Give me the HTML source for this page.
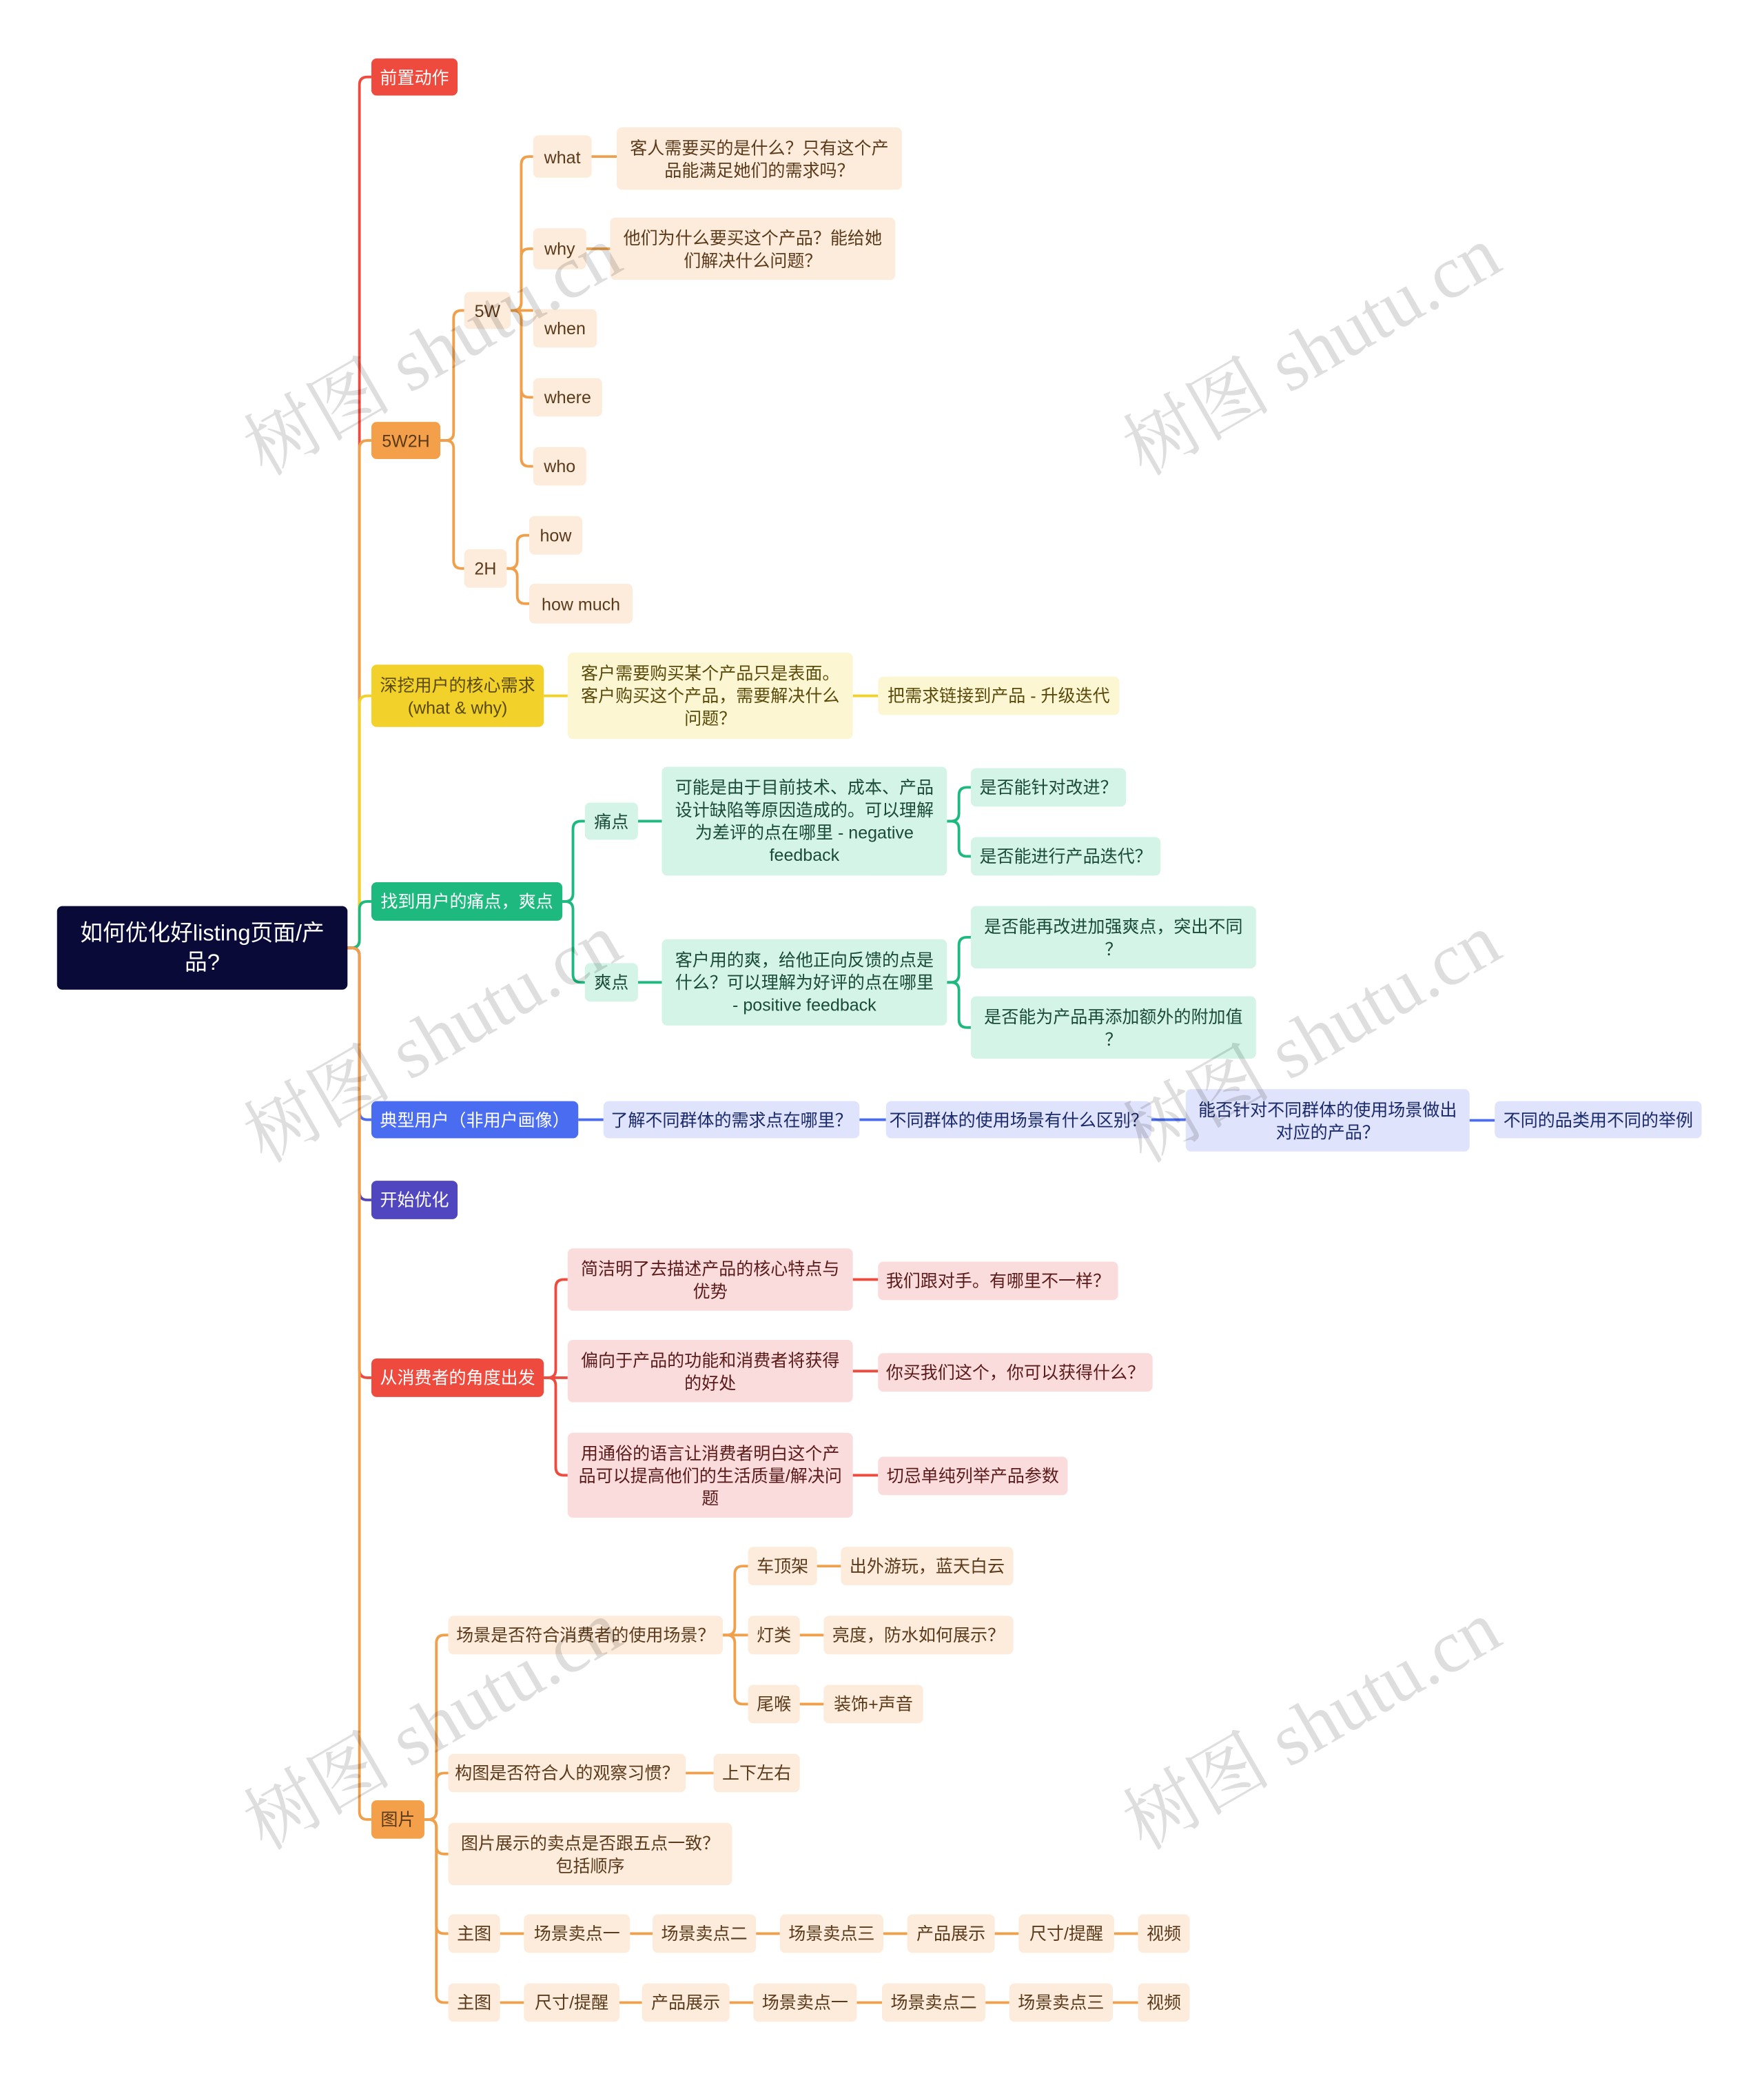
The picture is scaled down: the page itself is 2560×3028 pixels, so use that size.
<!DOCTYPE html>
<html><head><meta charset="utf-8">
<style>
html,body{margin:0;padding:0;background:#fff;}
body{width:2560px;height:3027px;overflow:hidden;position:relative;}
#w{position:absolute;left:0;top:0;width:1330px;height:1573px;transform:scale(1.92481);transform-origin:0 0;font-family:"Liberation Sans","Noto Sans CJK SC",sans-serif;}
.n{position:absolute;box-sizing:border-box;display:flex;align-items:center;justify-content:center;text-align:center;border-radius:4px;font-size:13px;line-height:17px;white-space:nowrap;}
.wm{position:absolute;font-family:"Liberation Serif","Noto Serif CJK SC",serif;font-size:56px;color:rgba(0,0,0,0.13);transform:rotate(-30deg);transform-origin:0 0;white-space:nowrap;}
svg{position:absolute;left:0;top:0;}
</style></head><body><div id="w">
<svg id="s" width="1330" height="1573"></svg>
</div>
<script>
var W=document.getElementById('w'),S=document.getElementById('s');
var OR='#f0a04a',LO='#fdebdb',TO='#5a3a1a';
var R='#ef4a3e',LR='#fbdcdc',TR='#5a1a1a';
var G='#1db97f',LG='#d3f4e6',TG='#1a4a3a';
var B='#4a6cf0',LB='#dfe3fb',TB='#1a2a6a';
var Y='#f2d12a',LY='#fdf6d3',TY='#5a4a0a';
var P='#5046c0';
var N={};
function n(id,x1,y1,x2,y2,t,bg,c,fs){N[id]=[x1,y1,x2,y2];var d=document.createElement('div');d.className='n';d.style.cssText='left:'+x1+'px;top:'+y1+'px;width:'+(x2-x1)+'px;height:'+(y2-y1)+'px;background:'+bg+';color:'+c+';'+(fs?'font-size:'+fs+'px;line-height:22px;':'');d.innerHTML=t;W.appendChild(d);}
var paths='';
function e(a,b,xm,col,sw){var p=N[a],q=N[b];var px=p[2],py=(p[1]+p[3])/2,cx=q[0],cy=(q[1]+q[3])/2;var d;
 if(Math.abs(py-cy)<14){d='M'+px+' '+py+'L'+cx+' '+py;}else{var r=6,s=cy>py?1:-1;if(xm==null)xm=(px+cx)/2;
 d='M'+px+' '+py+'H'+(xm-r)+'Q'+xm+' '+py+' '+xm+' '+(py+s*r)+'V'+(cy-s*r)+'Q'+xm+' '+cy+' '+(xm+r)+' '+cy+'H'+cx;}
 paths+='<path d="'+d+'" fill="none" stroke="'+col+'" stroke-width="'+(sw||2)+'"/>';}
n('root',43,683,262,746,'如何优化好listing页面/产<br>品?','#0a0a38','#fff',17);
n('a',280,44,345,72,'前置动作',R,'#fff');
n('b',280,318,332,346,'5W2H','#f4a04a',TO);
n('c',280,501,410,548,'深挖用户的核心需求<br>(what &amp; why)',Y,TY);
n('d',280,665,424,694,'找到用户的痛点，爽点',G,'#fff');
n('e',280,830,436,858,'典型用户（非用户画像）',B,'#fff');
n('f',280,890,345,919,'开始优化',P,'#fff');
n('g',280,1024,410,1053,'从消费者的角度出发',R,'#fff');
n('h',280,1357,320,1386,'图片','#f4a04a',TO);
n('5w',350,220,385,248,'5W',LO,TO);n('2h',350,414,382,443,'2H',LO,TO);
n('what',402,102,446,134,'what',LO,TO);n('why',402,172,442,203,'why',LO,TO);
n('when',402,233,450,262,'when',LO,TO);n('where',402,285,454,314,'where',LO,TO);n('who',402,337,442,366,'who',LO,TO);
n('wt',465,96,680,143,'客人需要买的是什么？只有这个产<br>品能满足她们的需求吗？',LO,TO);
n('wy',460,164,675,211,'他们为什么要买这个产品？能给她<br>们解决什么问题？',LO,TO);
n('how',399,389,439,418,'how',LO,TO);n('hm',399,440,477,470,'how much',LO,TO);
n('c1',428,492,643,557,'客户需要购买某个产品只是表面。<br>客户购买这个产品，需要解决什么<br>问题？',LY,TY);
n('c2',662,510,844,539,'把需求链接到产品 - 升级迭代',LY,TY);
n('tt',441,605,481,633,'痛点',LG,TG);n('sd',441,726,481,755,'爽点',LG,TG);
n('t1',499,578,714,660,'可能是由于目前技术、成本、产品<br>设计缺陷等原因造成的。可以理解<br>为差评的点在哪里 - negative<br>feedback',LG,TG);
n('t2',732,579,849,608,'是否能针对改进？',LG,TG);n('t3',732,631,875,660,'是否能进行产品迭代？',LG,TG);
n('s1',499,708,714,773,'客户用的爽，给他正向反馈的点是<br>什么？可以理解为好评的点在哪里<br>- positive feedback',LG,TG);
n('s2',732,683,947,730,'是否能再改进加强爽点，突出不同<br>？',LG,TG);n('s3',732,751,947,798,'是否能为产品再添加额外的附加值<br>？',LG,TG);
n('e1',455,830,648,858,'了解不同群体的需求点在哪里？',LB,TB);
n('e2',668,830,868,858,'不同群体的使用场景有什么区别？',LB,TB);
n('e3',894,821,1108,868,'能否针对不同群体的使用场景做出<br>对应的产品？',LB,TB);
n('e4',1127,830,1283,858,'不同的品类用不同的举例',LB,TB);
n('g1',428,941,643,988,'简洁明了去描述产品的核心特点与<br>优势',LR,TR);n('g1b',662,951,843,980,'我们跟对手。有哪里不一样？',LR,TR);
n('g2',428,1010,643,1057,'偏向于产品的功能和消费者将获得<br>的好处',LR,TR);n('g2b',662,1020,869,1049,'你买我们这个，你可以获得什么？',LR,TR);
n('g3',428,1080,643,1144,'用通俗的语言让消费者明白这个产<br>品可以提高他们的生活质量/解决问<br>题',LR,TR);n('g3b',662,1098,805,1127,'切忌单纯列举产品参数',LR,TR);
n('h1',338,1218,545,1247,'场景是否符合消费者的使用场景？',LO,TO);
n('h11',564,1166,616,1195,'车顶架',LO,TO);n('h11b',634,1166,764,1195,'出外游玩，蓝天白云',LO,TO);
n('h12',564,1218,603,1247,'灯类',LO,TO);n('h12b',621,1218,764,1247,'亮度，防水如何展示？',LO,TO);
n('h13',564,1270,603,1299,'尾喉',LO,TO);n('h13b',621,1270,696,1299,'装饰+声音',LO,TO);
n('h2',338,1322,517,1351,'构图是否符合人的观察习惯？',LO,TO);n('h2b',538,1322,603,1351,'上下左右',LO,TO);
n('h3',338,1374,552,1421,'图片展示的卖点是否跟五点一致？<br>包括顺序',LO,TO);
var r1=[['主图',338,377],['场景卖点一',395,475],['场景卖点二',492,570],['场景卖点三',588,666],['产品展示',684,750],['尺寸/提醒',768,840],['视频',858,897]];
var r2=[['主图',338,377],['尺寸/提醒',395,467],['产品展示',484,550],['场景卖点一',568,646],['场景卖点二',665,743],['场景卖点三',761,839],['视频',858,897]];
r1.forEach(function(a,i){n('r1'+i,a[1],1443,a[2],1472,a[0],LO,TO);if(i)e('r1'+(i-1),'r1'+i,null,OR);});
r2.forEach(function(a,i){n('r2'+i,a[1],1495,a[2],1524,a[0],LO,TO);if(i)e('r2'+(i-1),'r2'+i,null,OR);});
e('root','a',271,R);e('root','b',271,OR);e('root','c',271,Y);e('root','d',271,G);
e('root','e',271,B);e('root','f',271,P);e('root','g',271,R);e('root','h',271,OR);
e('b','5w',342,OR);e('b','2h',342,OR);
['what','why','when','where','who'].forEach(function(k){e('5w',k,393,OR);});
e('what','wt',null,OR);e('why','wy',null,OR);
e('2h','how',390,OR);e('2h','hm',390,OR);
e('c','c1',null,Y);e('c1','c2',null,Y);
e('d','tt',432,G);e('d','sd',432,G);e('tt','t1',null,G);e('sd','s1',null,G);
e('t1','t2',723,G);e('t1','t3',723,G);e('s1','s2',723,G);e('s1','s3',723,G);
e('e','e1',null,B);e('e1','e2',null,B);e('e2','e3',null,B);e('e3','e4',null,B);
e('g','g1',419,R);e('g','g2',419,R);e('g','g3',419,R);e('g1','g1b',null,R);e('g2','g2b',null,R);e('g3','g3b',null,R);
e('h','h1',329,OR);e('h','h2',329,OR);e('h','h3',329,OR);e('h','r10',329,OR);e('h','r20',329,OR);
e('h1','h11',554,OR);e('h1','h12',554,OR);e('h1','h13',554,OR);
e('h11','h11b',null,OR);e('h12','h12b',null,OR);e('h13','h13b',null,OR);e('h2','h2b',null,OR);
S.innerHTML=paths;
[[168,305],[831,305],[168,823],[831,823],[168,1341],[831,1341]].forEach(function(p){var d=document.createElement('div');d.className='wm';d.style.left=p[0]+'px';d.style.top=p[1]+'px';d.innerHTML='树图 shutu.cn';W.appendChild(d);});
</script>
</body></html>
